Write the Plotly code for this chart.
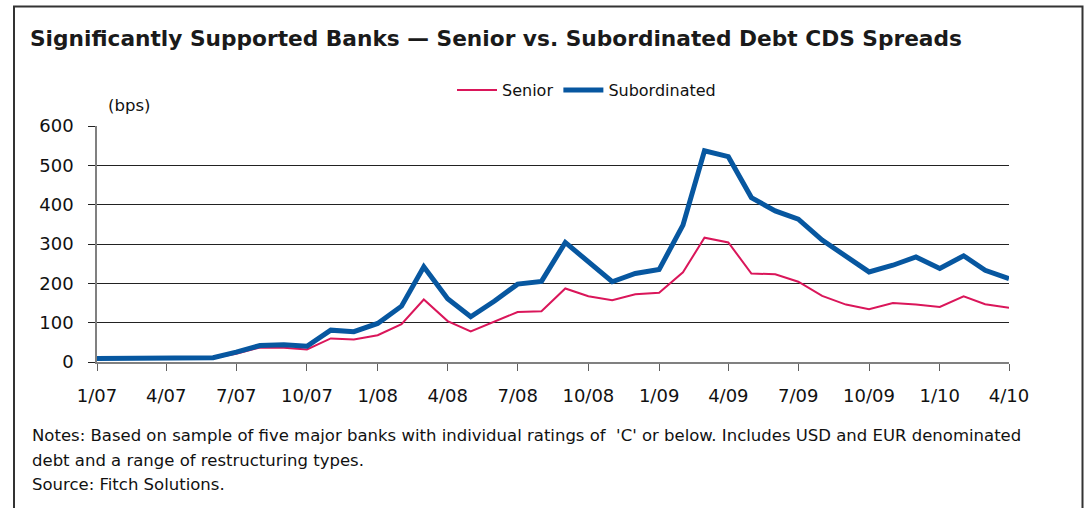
import plotly.graph_objects as go

months = [f"{2007 + (i // 12)}-{(i % 12) + 1:02d}-01" for i in range(40)]

senior = [8, 8, 10, 10, 9, 10, 21, 37, 36, 32, 60, 57, 68, 96,
          159, 104, 78, 103, 127, 129, 187, 167, 157, 172, 176, 228,
          316, 304, 225, 223, 204, 168, 146, 134, 150, 146, 140, 167,
          147, 138]
subordinated = [9, 9, 11, 11, 10, 11, 25, 42, 44, 40, 81, 77, 98, 142,
                242, 161, 115, 155, 198, 205, 304, 255, 204, 225, 235, 348,
                537, 522, 418, 384, 363, 310, 267, 229, 246, 267, 238, 270,
                233, 212]

tick_dates = [months[i] for i in range(0, 40, 3)]
tick_labels = ["1/07", "4/07", "7/07", "10/07", "1/08", "4/08", "7/08",
               "10/08", "1/09", "4/09", "7/09", "10/09", "1/10", "4/10"]
y_ticks = [0, 100, 200, 300, 400, 500, 600]

title = "Significantly Supported Banks \u2014 Senior vs. Subordinated Debt CDS Spreads"
notes = [
    "Notes: Based on sample of five major banks with individual ratings of  'C' or below. Includes USD and EUR denominated",
    "debt and a range of restructuring types.",
    "Source: Fitch Solutions.",
]

FONT = "DejaVu Sans"
W, H = 1089, 508
L, R, T, B = 97, 1009, 126, 362
PW, PH = R - L, B - T


def px(x):
    return (x - L) / PW


def py(y):
    return (B - y) / PH


fig = go.Figure()
fig.add_trace(go.Scatter(x=months, y=senior, name="Senior", mode="lines",
                         line=dict(color="#DA165A", width=2)))
fig.add_trace(go.Scatter(x=months, y=subordinated, name="Subordinated", mode="lines",
                         line=dict(color="#0757A0", width=5)))

fig.update_layout(
    width=W, height=H,
    margin=dict(l=L, r=W - R, t=T, b=H - B),
    paper_bgcolor="white", plot_bgcolor="white",
    font=dict(family=FONT, size=18, color="#111111"),
    showlegend=True,
    legend=dict(orientation="h", x=px(452), xanchor="left", y=py(90), yanchor="middle",
                font=dict(size=16, color="#111111"), bgcolor="rgba(0,0,0,0)",
                itemwidth=40, tracegroupgap=0),
    title=dict(text=title, x=30 / W, xanchor="left", xref="container",
               y=1 - 38 / H, yanchor="middle", yref="container",
               font=dict(family=FONT, size=21.7, color="#1a1a1a", weight="bold")),
    xaxis=dict(type="date", range=[months[0], months[-1]],
               tickvals=tick_dates, ticktext=tick_labels,
               showgrid=False, showline=True, linecolor="#808080", linewidth=1.5,
               ticks="outside", ticklen=7, tickcolor="#606060", tickwidth=1,
               ticklabelstandoff=10,
               tickfont=dict(size=18), zeroline=False),
    yaxis=dict(range=[0, 600], tickvals=y_ticks, showgrid=True,
               gridcolor="#222222", gridwidth=1,
               showline=True, linecolor="#808080", linewidth=1.5,
               ticks="outside", ticklen=7, tickcolor="#222222",
               ticklabelstandoff=11,
               tickfont=dict(size=18), zeroline=False),
)

fig.add_annotation(text="(bps)", xref="paper", yref="paper", x=px(129), y=py(105),
                   showarrow=False, font=dict(size=16.5), xanchor="center", yanchor="middle")

for txt, ypix in zip(notes, [435, 460, 484]):
    fig.add_annotation(text=txt, xref="paper", yref="paper", x=px(30), y=py(ypix),
                       showarrow=False, font=dict(size=16.5), xanchor="left", yanchor="middle",
                       align="left")

fig.add_shape(type="path", xref="paper", yref="paper",
              path=f"M {px(14)},{py(530)} L {px(14)},{py(6.5)} L {px(1082.5)},{py(6.5)} L {px(1082.5)},{py(530)}",
              line=dict(color="#333333", width=2), layer="above")

fig.write_html("out.html", config={"displayModeBar": False},
               post_script="document.body.style.margin='0';")
